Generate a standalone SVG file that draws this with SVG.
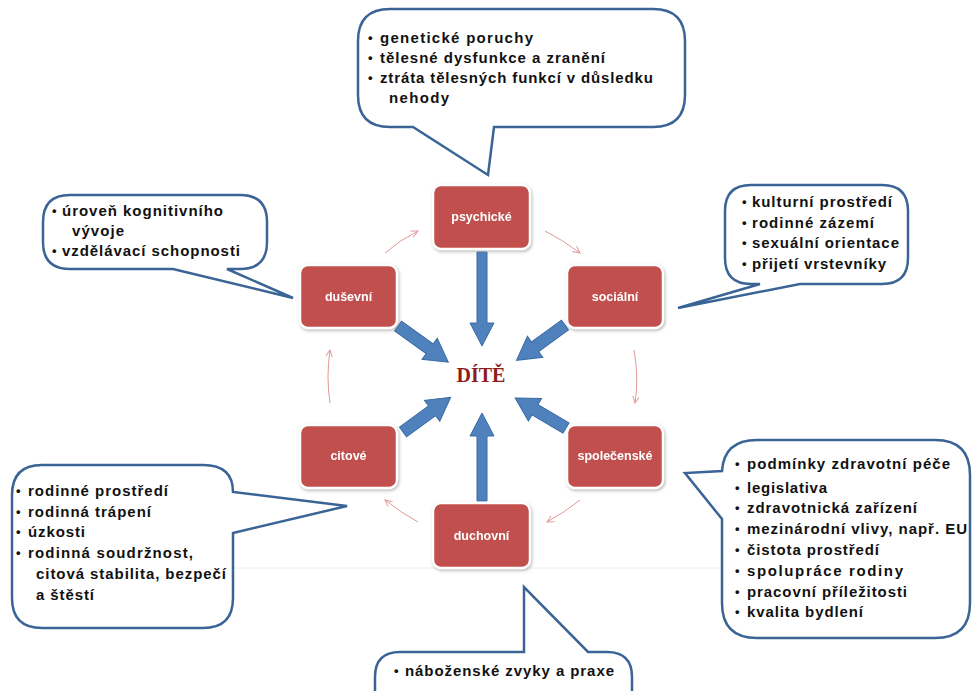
<svg xmlns="http://www.w3.org/2000/svg" width="973" height="691" viewBox="0 0 973 691">
<defs>
<style>
.callout{fill:#fff;stroke:#3A6495;stroke-width:2.5;stroke-linejoin:miter}
.ct{font-family:"Liberation Sans",Arial,sans-serif;font-weight:bold;font-size:15px;fill:#111}
.bul{font-family:"Liberation Sans",Arial,sans-serif;font-weight:bold;font-size:13px;fill:#111}
.box{fill:#C0504D;stroke:#fff;stroke-width:2.5}
.bt{font-family:"Liberation Sans",Arial,sans-serif;font-weight:bold;font-size:12.5px;fill:#fff;text-anchor:middle}
.big{fill:#4F81BD;stroke:#3A6BA5;stroke-width:1}
.thin{fill:none;stroke:#E09A98;stroke-width:1;marker-end:url(#th)}
</style>
<marker id="th" markerWidth="9" markerHeight="8" refX="7" refY="3.5" orient="auto" markerUnits="userSpaceOnUse">
<path d="M0,0 L7,3.5 L0,7" fill="none" stroke="#E09A98" stroke-width="1"/>
</marker>
<filter id="sh" x="-10%" y="-10%" width="125%" height="130%">
<feDropShadow dx="1" dy="1.5" stdDeviation="1.5" flood-color="#888" flood-opacity="0.6"/>
</filter>
</defs>
<rect width="973" height="691" fill="#fff"/>
<line x1="233" y1="568" x2="722" y2="568" stroke="#ececec" stroke-width="1"/>

<g id="connectors">
<path class="thin" d="M385,253 Q400,240 418,231"/>
<path class="thin" d="M545,231 Q563,240 580,253"/>
<path class="thin" d="M634,350 Q639,377 635,403"/>
<path class="thin" d="M580,500 Q565,512 547,522"/>
<path class="thin" d="M418,522 Q400,512 385,500"/>
<path class="thin" d="M330,403 Q326,377 330,350"/>
<path class="big" transform="translate(482,252) rotate(90)" d="M0,-5 L71,-5 L71,-12 L94,0 L71,12 L71,5 L0,5 Z"/>
<path class="big" transform="translate(482,501) rotate(-90)" d="M0,-5 L65,-5 L65,-12 L88,0 L65,12 L65,5 L0,5 Z"/>
<path class="big" transform="translate(398,326) rotate(35.8)" d="M0,-6 L39,-6 L39,-13 L62,0 L39,13 L39,6 L0,6 Z"/>
<path class="big" transform="translate(565,325) rotate(143.9)" d="M0,-6 L37,-6 L37,-13 L60,0 L37,13 L37,6 L0,6 Z"/>
<path class="big" transform="translate(403,432) rotate(-36.1)" d="M0,-6 L36,-6 L36,-13 L59,0 L36,13 L36,6 L0,6 Z"/>
<path class="big" transform="translate(566,428) rotate(-149.5)" d="M0,-6 L36,-6 L36,-13 L59,0 L36,13 L36,6 L0,6 Z"/>
</g>

<g id="dite">
<text x="481" y="382" text-anchor="middle" font-family="'Liberation Serif','Times New Roman',serif" font-weight="bold" font-size="20" fill="#8E1B1B">DÍTĚ</text>
</g>

<g id="psychicke" filter="url(#sh)"><rect class="box" x="433" y="185" width="97" height="64" rx="8"/><text class="bt" x="481.5" y="221">psychické</text></g>
<g id="socialni" filter="url(#sh)"><rect class="box" x="567" y="265" width="96" height="63" rx="8"/><text class="bt" x="615" y="301">sociální</text></g>
<g id="dusevni" filter="url(#sh)"><rect class="box" x="300" y="265" width="97" height="63" rx="8"/><text class="bt" x="348.5" y="301">duševní</text></g>
<g id="citove" filter="url(#sh)"><rect class="box" x="300" y="425" width="97" height="63" rx="8"/><text class="bt" x="348.5" y="460">citové</text></g>
<g id="spolecenske" filter="url(#sh)"><rect class="box" x="567" y="425" width="96" height="63" rx="8"/><text class="bt" x="615" y="460">společenské</text></g>
<g id="duchovni" filter="url(#sh)"><rect class="box" x="433" y="503" width="97" height="65" rx="8"/><text class="bt" x="481.5" y="540">duchovní</text></g>

<g id="callout-top">
<path class="callout" d="M390,9 H653 Q685,9 685,41 V95 Q685,127 653,127 H494 L488,175 L413,127 H390 Q358,127 358,95 V41 Q358,9 390,9 Z"/>
<text class="bul" x="368" y="42">•</text><text class="ct" x="380" y="43" textLength="153" lengthAdjust="spacing">genetické  poruchy</text>
<text class="bul" x="368" y="62">•</text><text class="ct" x="380" y="63" textLength="225" lengthAdjust="spacing">tělesné dysfunkce a zranění</text>
<text class="bul" x="368" y="82">•</text><text class="ct" x="380" y="83" textLength="273" lengthAdjust="spacing">ztráta tělesných funkcí v důsledku</text>
<text class="ct" x="389" y="103" textLength="60" lengthAdjust="spacing">nehody</text>
</g>

<g id="callout-dusevni">
<path class="callout" d="M70,195 H240 Q267,195 267,222 V242 Q267,269 240,269 H227 L293,298 L173,269 H70 Q43,269 43,242 V222 Q43,195 70,195 Z"/>
<text class="bul" x="52" y="215">•</text><text class="ct" x="62" y="216" textLength="161" lengthAdjust="spacing">úroveň kognitivního</text>
<text class="ct" x="72" y="236" textLength="52" lengthAdjust="spacing">vývoje</text>
<text class="bul" x="52" y="255">•</text><text class="ct" x="62" y="256" textLength="178" lengthAdjust="spacing">vzdělávací schopnosti</text>
</g>

<g id="callout-socialni">
<path class="callout" d="M751,185 H882 Q908,185 908,211 V258 Q908,284 882,284 H800 L678,308 L760,284 H751 Q725,284 725,258 V211 Q725,185 751,185 Z"/>
<text class="bul" x="742" y="206">•</text><text class="ct" x="752" y="207" textLength="140" lengthAdjust="spacing">kulturní prostředí</text>
<text class="bul" x="742" y="227">•</text><text class="ct" x="752" y="228" textLength="122" lengthAdjust="spacing">rodinné zázemí</text>
<text class="bul" x="742" y="247">•</text><text class="ct" x="752" y="248" textLength="147" lengthAdjust="spacing">sexuální orientace</text>
<text class="bul" x="742" y="268">•</text><text class="ct" x="752" y="269" textLength="134" lengthAdjust="spacing">přijetí vrstevníky</text>
</g>

<g id="callout-citove">
<path class="callout" d="M42,465 H203 Q233,465 233,492 L347,506 L233,533 V598 Q233,628 203,628 H42 Q12,628 12,598 V495 Q12,465 42,465 Z"/>
<text class="bul" x="16" y="495">•</text><text class="ct" x="28" y="496" textLength="140" lengthAdjust="spacing">rodinné prostředí</text>
<text class="bul" x="16" y="516">•</text><text class="ct" x="28" y="517" textLength="123" lengthAdjust="spacing">rodinná trápení</text>
<text class="bul" x="16" y="536">•</text><text class="ct" x="28" y="537" textLength="57" lengthAdjust="spacing">úzkosti</text>
<text class="bul" x="16" y="557">•</text><text class="ct" x="28" y="558" textLength="165" lengthAdjust="spacing">rodinná soudržnost,</text>
<text class="ct" x="36" y="579" textLength="190" lengthAdjust="spacing">citová stabilita, bezpečí</text>
<text class="ct" x="36" y="600" textLength="58" lengthAdjust="spacing">a štěstí</text>
</g>

<g id="callout-spolecenske">
<path class="callout" d="M757,440 H935 Q970,440 970,475 V603 Q970,638 935,638 H757 Q722,638 722,603 V519 L685,473 L722,471 Q724,440 757,440 Z"/>
<text class="bul" x="735" y="468">•</text><text class="ct" x="747" y="469" textLength="203" lengthAdjust="spacing">podmínky zdravotní péče</text>
<text class="bul" x="735" y="492">•</text><text class="ct" x="747" y="493" textLength="80" lengthAdjust="spacing">legislativa</text>
<text class="bul" x="735" y="512">•</text><text class="ct" x="747" y="513" textLength="170" lengthAdjust="spacing">zdravotnická zařízení</text>
<text class="bul" x="735" y="533">•</text><text class="ct" x="747" y="534" textLength="220" lengthAdjust="spacing">mezinárodní vlivy, např. EU</text>
<text class="bul" x="735" y="554">•</text><text class="ct" x="747" y="555" textLength="132" lengthAdjust="spacing">čistota prostředí</text>
<text class="bul" x="735" y="575">•</text><text class="ct" x="747" y="576" textLength="156" lengthAdjust="spacing">spolupráce rodiny</text>
<text class="bul" x="735" y="596">•</text><text class="ct" x="747" y="597" textLength="160" lengthAdjust="spacing">pracovní příležitosti</text>
<text class="bul" x="735" y="616">•</text><text class="ct" x="747" y="617" textLength="116" lengthAdjust="spacing">kvalita bydlení</text>
</g>

<g id="callout-duchovni">
<path class="callout" d="M400,652 H524 V587 L588,652 H607 Q632,652 632,677 V720 H375 V677 Q375,652 400,652 Z"/>
<text class="bul" x="394" y="675">•</text><text class="ct" x="405" y="676" textLength="209" lengthAdjust="spacing">náboženské zvyky a praxe</text>
</g>
</svg>
